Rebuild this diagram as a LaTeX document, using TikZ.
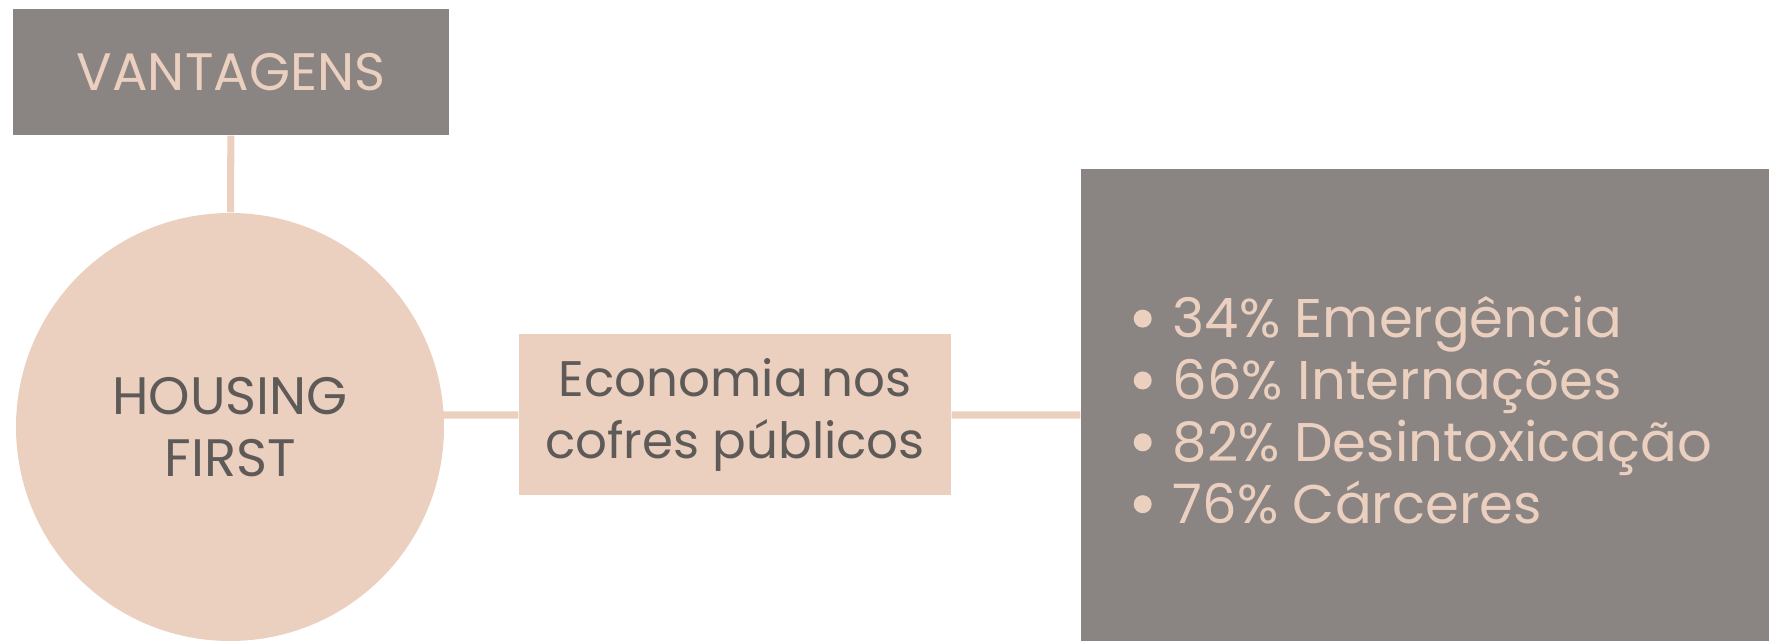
\documentclass[tikz,border=0pt]{standalone}
\usepackage{fontspec}
\setmainfont{Poppins}
\usetikzlibrary{positioning,backgrounds}
\definecolor{cinza}{HTML}{8A8583}
\definecolor{pessego}{HTML}{EBCFBF}
\definecolor{escuro}{HTML}{5E5A58}
\newcommand{\marca}[1]{\tikz[baseline=-0.19cm]\fill[pessego] (0,0) circle (0.09);\hspace{6pt}#1}

\begin{document}
\begin{tikzpicture}[inner sep=0pt,font=\fontsize{14.2}{17.6}\selectfont]
  \tikzstyle{caixa}=[rectangle,fill=cinza,draw=none,text=pessego]
  \tikzstyle{clara}=[rectangle,fill=pessego,draw=none,text=escuro,align=center]
  \tikzstyle{liga}=[draw=pessego,line width=2pt]
  \useasboundingbox (0,0) rectangle (17.69,6.41);

  \node[caixa,minimum width=4.35cm,minimum height=1.26cm,font=\fontsize{15}{18}\selectfont] (V) at (2.31,5.69) {VANTAGENS};
  \node[clara,circle,minimum size=4.28cm,font=\fontsize{15}{17.6}\selectfont] (H) at (2.30,2.14) {HOUSING\\FIRST};
  \node[clara,minimum width=4.32cm,minimum height=1.61cm] (E) at (7.35,2.26) {Economia nos\\cofres públicos};
  \node[caixa,minimum width=6.88cm,minimum height=4.72cm] (G) at (14.25,2.36) {};
  \node[text=pessego,align=left,anchor=west,font=\fontsize{15.5}{17.6}\selectfont] (L) at (11.33,2.31)
    {\marca{34\% Emergência}\\ \marca{66\% Internações}\\ \marca{82\% Desintoxicação}\\ \marca{76\% Cárceres}};

  \begin{scope}[on background layer]
    \path[liga] (V) -- (H)
                (H.center |- E) -- (E)
                (E) -- (E -| G.west);
  \end{scope}
\end{tikzpicture}
\end{document}
